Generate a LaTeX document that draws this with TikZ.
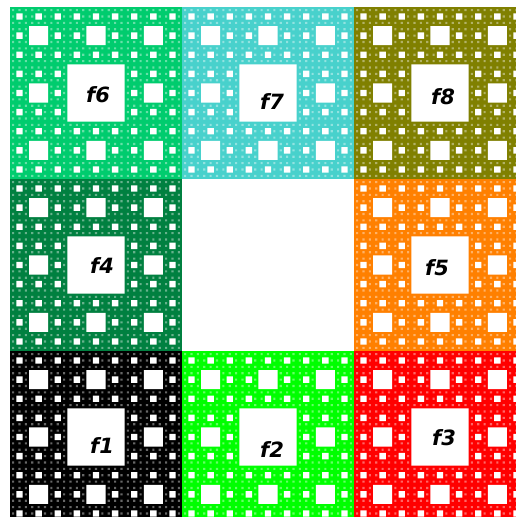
\documentclass[tikz,border=0pt]{standalone}
\usepackage{fontspec}
\setsansfont{DejaVu Sans}
\definecolor{cf2}{RGB}{0,255,0}
\definecolor{cf3}{RGB}{255,0,0}
\definecolor{cf4}{RGB}{0,128,64}
\definecolor{cf5}{RGB}{255,128,0}
\definecolor{cf6}{RGB}{0,204,110}
\definecolor{cf7}{RGB}{72,209,204}
\definecolor{cf8}{RGB}{128,128,0}
\tikzset{lab/.style={font=\sffamily\bfseries\itshape\fontsize{21}{21}\selectfont}}

\begin{document}
\begin{tikzpicture}[x=1pt,y=1pt]
\useasboundingbox (0,0) rectangle (516,517);
\clip (0,0) rectangle (516,517);
% the eight pieces
\foreach \c/\i/\j in {black/0/0,cf2/1/0,cf3/2/0,cf4/0/1,cf5/2/1,cf6/0/2,cf7/1/2,cf8/2/2}
  \fill[\c] ({10+172*\i},{-6+172*\j}) rectangle ++(172,172);
% holes, level by level (the smallest ones only faint)
\foreach \k/\o in {1/1,2/1,3/1,4/1,5/0.4} {
  \pgfmathsetmacro\s{516/3^\k}
  \pgfmathtruncatemacro\n{3^(\k-1)-1}
  \fill[white,fill opacity=\o] \foreach \a in {0,...,\n} {\foreach \b in {0,...,\n} {
    ({10+(3*\a+1)*\s},{-6+(3*\b+1)*\s}) rectangle ++(\s,\s)}};
}
\node[lab] (f1) at (102,71) {f1};
\node[lab] (f2) at (272,67) {f2};
\node[lab] (f3) at (444,79) {f3};
\node[lab] (f4) at (102,251) {f4};
\node[lab] (f5) at (437,249) {f5};
\node[lab] (f6) at (98,422) {f6};
\node[lab] (f7) at (272,415) {f7};
\node[lab] (f8) at (443,420) {f8};
\end{tikzpicture}
\end{document}
